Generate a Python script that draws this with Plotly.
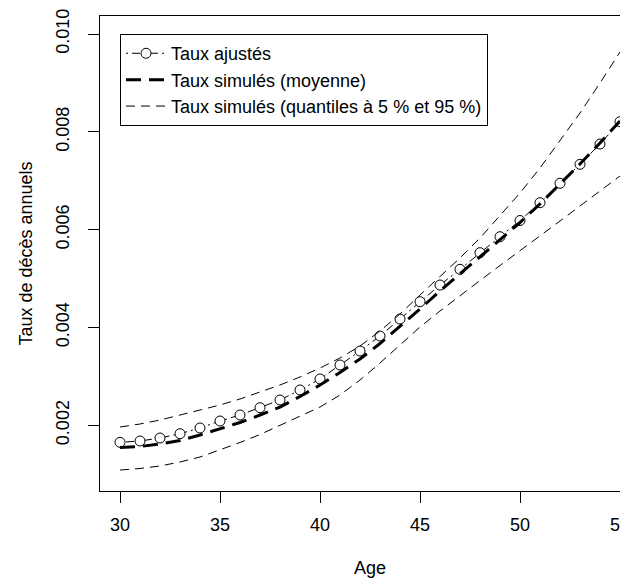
import plotly.graph_objects as go

# Ages covered by the projection
ages = list(range(30, 56))

# Fitted annual death rates (points joined by a dot-dash line)
taux_ajustes = [0.001652, 0.001679, 0.001740, 0.001828, 0.001945, 0.002088,
                0.002211, 0.002360, 0.002517, 0.002722, 0.002947, 0.003233,
                0.003519, 0.003826, 0.004173, 0.004527, 0.004868, 0.005189,
                0.005529, 0.005856, 0.006187, 0.006551, 0.006948, 0.007336,
                0.007751, 0.008207]

# Mean of the simulated rates
taux_moyenne = [0.001546, 0.001567, 0.001618, 0.001689, 0.001802, 0.001924,
                0.002057, 0.002211, 0.002374, 0.002589, 0.002824, 0.003080,
                0.003356, 0.003672, 0.004020, 0.004378, 0.004746, 0.005093,
                0.005441, 0.005788, 0.006146, 0.006525, 0.006923, 0.007342,
                0.007772, 0.008221]

# 95 % quantile of the simulated rates
taux_q95 = [0.001965, 0.002027, 0.002108, 0.002211, 0.002313, 0.002415,
            0.002538, 0.002681, 0.002824, 0.002988, 0.003171, 0.003376,
            0.003621, 0.003928, 0.004276, 0.004664, 0.005032, 0.005420,
            0.005829, 0.006279, 0.006749, 0.007261, 0.007813, 0.008385,
            0.008998, 0.009632]

# 5 % quantile of the simulated rates
taux_q05 = [0.001086, 0.001117, 0.001168, 0.001250, 0.001352, 0.001495,
            0.001648, 0.001812, 0.001996, 0.002180, 0.002374, 0.002619,
            0.002926, 0.003274, 0.003642, 0.004010, 0.004337, 0.004654,
            0.004960, 0.005267, 0.005564, 0.005870, 0.006177, 0.006484,
            0.006790, 0.007097]

x_ticks = [30, 35, 40, 45, 50, 55]
y_ticks = [0.002, 0.004, 0.006, 0.008, 0.010]
y_tick_text = ["0.002", "0.004", "0.006", "0.008", "0.010"]

FONT = "Liberation Sans, Arial, sans-serif"

fig = go.Figure()

fig.add_trace(go.Scatter(
    x=ages, y=taux_ajustes, mode="lines+markers", name="Taux ajustés",
    line=dict(color="black", width=1, dash="2px,4px,8px,4px"),
    marker=dict(symbol="circle", size=10, color="white",
                line=dict(color="black", width=1)),
))

fig.add_trace(go.Scatter(
    x=ages, y=taux_moyenne, mode="lines", name="Taux simulés (moyenne)",
    line=dict(color="black", width=3, dash="15px,8px"),
))

fig.add_trace(go.Scatter(
    x=ages, y=taux_q95, mode="lines",
    name="Taux simulés (quantiles à 5 % et 95 %)", legendgroup="q",
    line=dict(color="black", width=1, dash="9px,6px"),
))

fig.add_trace(go.Scatter(
    x=ages, y=taux_q05, mode="lines", legendgroup="q", showlegend=False,
    name="Taux simulés (quantiles à 5 % et 95 %)",
    line=dict(color="black", width=1, dash="9px,6px"),
))

fig.update_layout(
    width=620, height=578, autosize=False,
    margin=dict(l=100, r=0, t=16, b=87, pad=0, autoexpand=False),
    paper_bgcolor="white", plot_bgcolor="white",
    font=dict(family=FONT, size=18, color="black"),
    showlegend=True,
    legend=dict(
        x=0.0385, y=0.962, xanchor="left", yanchor="top",
        bgcolor="white", bordercolor="black", borderwidth=1,
        font=dict(family=FONT, size=18, color="black"),
        itemwidth=40, tracegroupgap=0,
    ),
    xaxis=dict(
        range=[29, 55], tickvals=x_ticks, ticks="outside", ticklen=11,
        tickcolor="black", showline=True, linecolor="black", linewidth=1,
        mirror=True, showgrid=False, zeroline=False, automargin=False,
        ticklabeloverflow="allow", ticklabelstandoff=6,
    ),
    yaxis=dict(
        range=[0.000657, 0.010368], tickvals=y_ticks, ticktext=y_tick_text,
        ticks="outside", ticklen=11, tickcolor="black", tickangle=-90,
        showline=True, linecolor="black", linewidth=1, automargin=False,
        showgrid=False, zeroline=False, ticklabelstandoff=12,
    ),
    annotations=[
        dict(text="Age", xref="paper", yref="paper", x=0.519, y=-0.162,
             xanchor="center", yanchor="middle", showarrow=False,
             font=dict(family=FONT, size=18)),
        dict(text="Taux de décès annuels", xref="paper", yref="paper",
             x=-0.144, y=0.5, xanchor="center", yanchor="middle",
             textangle=-90, showarrow=False, font=dict(family=FONT, size=18)),
    ],
)

fig.write_html("out.html")
